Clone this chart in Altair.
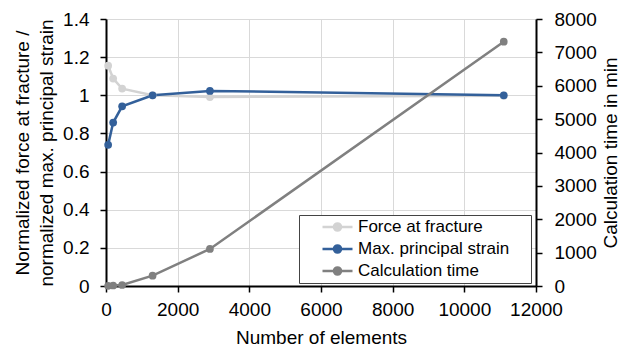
import altair as alt
import pandas as pd

elements = [60, 200, 450, 1300, 2900, 11100]
force = [1.155, 1.088, 1.035, 1.0, 0.991, 0.998]
strain = [0.74, 0.857, 0.942, 1.0, 1.023, 1.0]
calc_time = [5, 15, 30, 310, 1110, 7320]

series = ["Force at fracture", "Max. principal strain", "Calculation time"]
colors = ["#d3d3d3", "#33609a", "#808080"]

left_df = pd.DataFrame({
    "elements": elements * 2,
    "value": force + strain,
    "series": [series[0]] * len(elements) + [series[1]] * len(elements),
    "order": [0] * len(elements) + [1] * len(elements),
})
right_df = pd.DataFrame({"elements": elements, "value": calc_time, "series": [series[2]] * len(elements)})

FONT = "Liberation Sans"
FS = 19

color = alt.Color(
    "series:N",
    scale=alt.Scale(domain=series, range=colors),
    legend=alt.Legend(
        title="M",
        titleOrient="right",
        titleColor="white",
        titleFontSize=17,
        titlePadding=4,
        orient="none",
        legendX=193,
        legendY=196,
        symbolType="M-1,0H3M0.53,0A0.47,0.47,0,1,0,1.47,0A0.47,0.47,0,1,0,0.53,0Z",
        symbolSize=225,
        symbolStrokeWidth=2.5,
        symbolOffset=19,
        labelFontSize=17,
        labelFont=FONT,
        labelColor="black",
        rowPadding=4,
        labelOffset=19,
        padding=3,
        strokeColor="#444444",
        fillColor="white",
        labelLimit=300,
    ),
)

x = alt.X(
    "elements:Q",
    scale=alt.Scale(domain=[0, 12000], nice=False),
    axis=alt.Axis(
        title="Number of elements",
        values=list(range(0, 12001, 2000)),
        format="d",
        labelOverlap=False,
        labelFlush=False,
        labelPadding=8,
        titlePadding=9,
    ),
)

left = alt.Chart(left_df).mark_line(
    point=alt.OverlayMarkDef(size=60, filled=True, opacity=1), strokeWidth=2.5
).encode(
    x=x,
    y=alt.Y(
        "value:Q",
        scale=alt.Scale(domain=[0, 1.4], nice=False),
        axis=alt.Axis(
            title=["Normalized force at fracture /", "normalized max. principal strain"],
            values=[0, 0.2, 0.4, 0.6, 0.8, 1.0, 1.2, 1.4],
            format="~g",
            labelOverlap=False,
            labelFlush=False,
            labelPadding=11,
            titlePadding=6,
            titleLineHeight=24,
        ),
    ),
    color=color,
    order="order:Q",
)

right = alt.Chart(right_df).mark_line(
    point=alt.OverlayMarkDef(size=60, filled=True, opacity=1), strokeWidth=2.5
).encode(
    x=x,
    y=alt.Y(
        "value:Q",
        scale=alt.Scale(domain=[0, 8000], nice=False),
        axis=alt.Axis(
            title="Calculation time in min",
            orient="right",
            values=list(range(0, 8001, 1000)),
            format="d",
            grid=False,
            labelOverlap=False,
            labelFlush=False,
            labelPadding=12,
            titleAngle=270,
            titleBaseline="top",
            titlePadding=5,
        ),
    ),
    color=color,
)

chart = alt.layer(left, right).resolve_scale(y="independent").properties(
    width=430,
    height=267,
    autosize=alt.AutoSizeParams(type="none"),
    padding={"left": 106, "top": 19, "right": 85, "bottom": 60},
).configure_view(stroke=None).configure_axis(
    labelFont=FONT,
    titleFont=FONT,
    labelFontSize=FS,
    titleFontSize=FS,
    titleFontWeight="normal",
    labelColor="black",
    titleColor="black",
    domainColor="black",
    domainWidth=2,
    tickColor="black",
    tickWidth=1.5,
    tickSize=6,
    gridColor="#d9d9d9",
    gridWidth=1,
)

chart.save("out.html", embed_options={"renderer": "svg", "actions": False})
